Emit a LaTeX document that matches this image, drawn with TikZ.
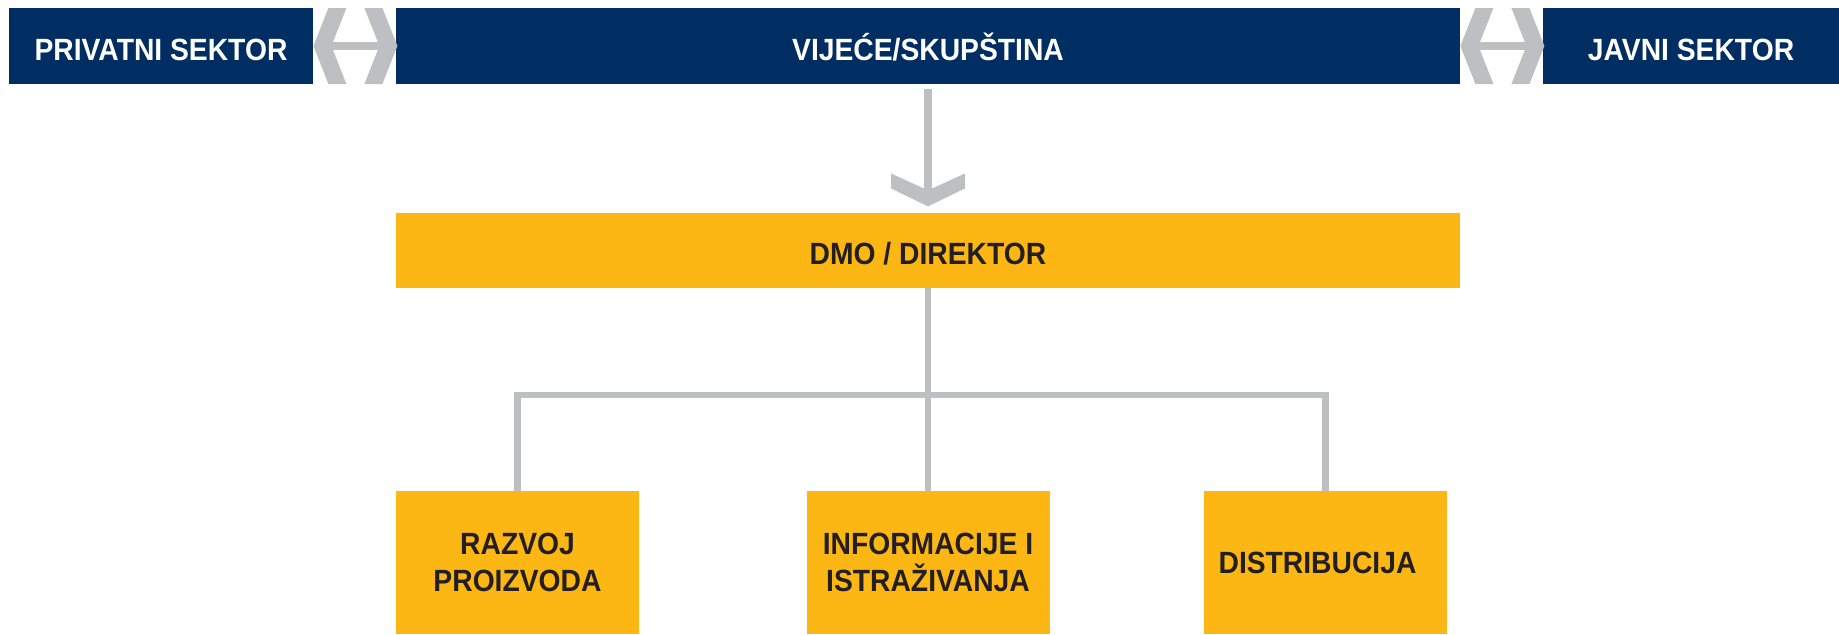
\documentclass[tikz,border=0pt]{standalone}
\usepackage{fontspec}
\newfontfamily\diagfont{Liberation Sans}[FakeStretch=0.92]
\definecolor{navy}{RGB}{0,45,98}
\definecolor{amber}{RGB}{253,183,20}
\definecolor{lgray}{RGB}{190,191,194}
\definecolor{ink}{RGB}{35,31,32}
\tikzset{
  topbox/.style={fill=navy, draw=none, inner sep=0pt, text=white,
    font=\diagfont\bfseries\fontsize{15.36}{18.5}\selectfont,
    text height=14pt, text depth=0pt, minimum height=38pt},
  dmobox/.style={fill=amber, draw=none, inner sep=0pt, text=ink,
    font=\diagfont\bfseries\fontsize{15.36}{18.5}\selectfont,
    text height=14pt, text depth=0pt, minimum height=37.5pt, minimum width=532pt},
  unitbox/.style={fill=amber, draw=none, inner sep=0pt, text=ink, align=center,
    font=\diagfont\bfseries\fontsize{15.36}{18.5}\selectfont,
    minimum height=71.5pt, minimum width=121.5pt},
  conn/.style={draw=lgray, line width=3.25pt},
  pics/dblarrow/.style={code={
    \fill[lgray] (0,0) -- (15,-38) -- (33,-38) -- (18,0) -- (33,38) -- (15,38) -- cycle;
    \fill[lgray] (17,-4) rectangle (67,4);
    \fill[lgray] (84,0) -- (69,-38) -- (51,-38) -- (66,0) -- (51,38) -- (69,38) -- cycle;
  }}
}
\begin{document}
\begin{tikzpicture}[x=0.5pt,y=-0.5pt]
\useasboundingbox (0,0) rectangle (1839,634);
% top row
\node[topbox, minimum width=152pt] (priv) at (161,46) {PRIVATNI SEKTOR};
\node[topbox, minimum width=532pt] (vijece) at (928,46) {VIJEĆE/SKUPŠTINA};
\node[topbox, minimum width=148pt] (javni) at (1691,46) {JAVNI SEKTOR};
\pic at (priv.east) {dblarrow};
\pic at (vijece.east) {dblarrow};
% down arrow
\begin{scope}[shift={(vijece.south)}]
  \fill[lgray] (-4,5) rectangle (4,106);
  \fill[lgray] (-37,89) -- (0,106) -- (37,89) -- (37,104) -- (0,122) -- (-37,104) -- cycle;
\end{scope}
% DMO
\node[dmobox] (dmo) at (928,250.5) {DMO / DIREKTOR};
% units
\node[unitbox] (razvoj) at (517.5,562.5) {RAZVOJ\\PROIZVODA};
\node[unitbox] (info) at (928,562.5) {INFORMACIJE I\\ISTRAŽIVANJA};
\node[unitbox] (distrib) at (1325.5,562.5) {\hspace*{-8pt}DISTRIBUCIJA};
% connectors
\coordinate (bar) at (928,395);
\draw[conn] (dmo.south) -- (info.north);
\draw[conn] (razvoj.north) |- (bar) -| (distrib.north);
\end{tikzpicture}
\end{document}
